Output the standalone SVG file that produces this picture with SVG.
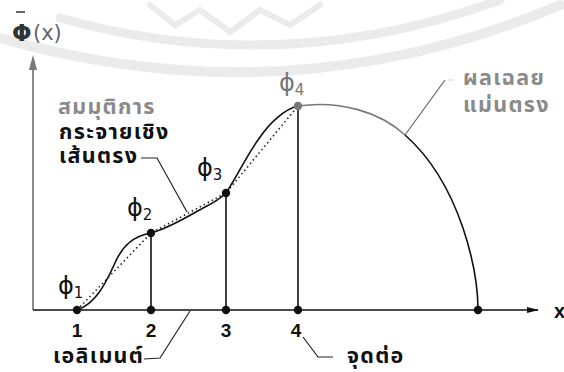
<svg xmlns="http://www.w3.org/2000/svg" width="564" height="372" viewBox="0 0 564 372">
<style>
.th{font-family:"Noto Sans Thai","Noto Sans","DejaVu Sans",sans-serif;font-size:21.5px;font-weight:bold;letter-spacing:1.3px}
.g{fill:#8a8a8a}
.k{fill:#111}
.phi{font-family:"DejaVu Sans",sans-serif;font-size:24px;fill:#111}
.sub{font-size:15px}
.num{font-family:"Liberation Sans",Arial,sans-serif;font-size:19px;font-weight:bold;fill:#111;text-anchor:middle}
.ln{stroke:#111;stroke-width:1.6;fill:none}
.ld{stroke:#222;stroke-width:1.2;fill:none}
.wm{stroke:#ebebeb;fill:none;stroke-linecap:round}
</style>
<defs>
<marker id="ah" markerWidth="12" markerHeight="8" refX="11" refY="4" orient="auto" markerUnits="userSpaceOnUse">
<path d="M0,1 L12,4 L0,7 Z" fill="#111"/>
</marker>
</defs>
<rect width="564" height="372" fill="#fff"/>
<g id="watermark">
<path class="wm" stroke-width="9" d="M60,18 Q280,80 500,0"/>
<path class="wm" stroke-width="10" d="M0,38 Q290,120 560,5"/>
<path class="wm" stroke-width="6" d="M150,5 L175,25 L200,10 L230,32 L260,10 L290,25 L320,5"/>
</g>
<g id="axes">
<line x1="33" y1="310" x2="33" y2="62" stroke="#666" stroke-width="1.5"/>
<path d="M29,70 L33,55 L37,70 Z" fill="#777"/>
<line x1="33" y1="310" x2="538" y2="310" class="ln" marker-end="url(#ah)"/>
<text x="554" y="318" font-family="Liberation Sans,Arial,sans-serif" font-size="20" font-weight="bold" fill="#111">x</text>
<text x="12" y="41" font-family="DejaVu Sans,sans-serif" font-size="23" font-weight="bold" fill="#333">Φ</text>
<line x1="16" y1="12" x2="25" y2="12" stroke="#444" stroke-width="1.6"/>
<text x="33" y="40" font-family="DejaVu Sans,sans-serif" font-size="21" fill="#666">(x)</text>
</g>
<g id="connectors">
<line x1="151" y1="233" x2="151" y2="310" class="ln"/>
<line x1="226" y1="193" x2="226" y2="310" class="ln"/>
<line x1="298" y1="106" x2="298" y2="310" class="ln"/>
<path id="approx" d="M77,310 L151,233 L226,193 L298,106" fill="none" stroke="#222" stroke-width="1.6" stroke-dasharray="1.5,3"/>
<path id="exact" class="ln" d="M77,310 C95,304 105,285 114,265 C122,246 133,236 151,233 C170,228 190,215 205,207 C215,202 221,198 226,193 C238,175 247,155 258,140 C270,122 285,109 298,106"/>
<path id="exact-top" fill="none" stroke="#777" stroke-width="1.6" d="M298,106 C340,100 380,112 405,135"/>
<path id="exact-right" class="ln" d="M405,135 C430,157 450,190 463,228 C472,255 478,280 478,310"/>
<path class="ld" d="M141,158 L157,158 L187,212"/>
<path d="M453,80 L447,80" stroke="#888" stroke-width="1.2" stroke-dasharray="1,2"/>
<path d="M445,80 L405,135" stroke="#666" stroke-width="1.2" fill="none"/>
<path class="ld" d="M144,359 L160,358 L190,311"/>
<path class="ld" d="M303,337 L318,357 L333,357"/>
</g>
<g id="node1"><circle cx="77" cy="310" r="4.2" fill="#111"/><text class="num" x="77" y="337">1</text><text class="phi" x="58" y="294">ϕ<tspan class="sub" dy="4">1</tspan></text></g>
<g id="node2"><circle cx="151" cy="310" r="4.2" fill="#111"/><circle cx="151" cy="233" r="4.2" fill="#111"/><text class="num" x="151" y="337">2</text><text class="phi" x="127" y="216">ϕ<tspan class="sub" dy="4">2</tspan></text></g>
<g id="node3"><circle cx="226" cy="310" r="4.2" fill="#111"/><circle cx="226" cy="193" r="4.2" fill="#111"/><text class="num" x="226" y="337">3</text><text class="phi" x="197" y="176">ϕ<tspan class="sub" dy="4">3</tspan></text></g>
<g id="node4"><circle cx="298" cy="310" r="4.2" fill="#111"/><circle cx="298" cy="106" r="4.2" fill="#777"/><text class="num" x="296" y="337">4</text><text class="phi" x="279" y="91" style="fill:#777">ϕ<tspan class="sub" dy="4">4</tspan></text></g>
<g id="node5"><circle cx="478" cy="310" r="4.2" fill="#111"/></g>
<g id="label-linear"><text class="th g" x="58" y="114">สมมุติการ</text><text class="th k" x="59" y="139">กระจายเชิง</text><text class="th k" x="59" y="163">เส้นตรง</text></g>
<g id="label-exact"><text class="th g" x="463" y="85">ผลเฉลย</text><text class="th g" x="463" y="112">แม่นตรง</text></g>
<g id="label-element"><text class="th k" x="53" y="363">เอลิเมนต์</text></g>
<g id="label-node"><text class="th k" x="347" y="363">จุดต่อ</text></g>
</svg>
